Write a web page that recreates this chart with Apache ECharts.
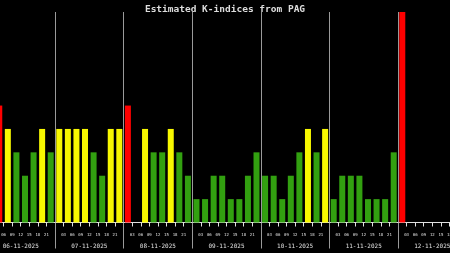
<!DOCTYPE html>
<html>
<head>
<meta charset="utf-8">
<script src="https://cdn.jsdelivr.net/npm/echarts@6/dist/echarts.min.js"></script>
<style>
html,body{margin:0;padding:0;background:#000;}
#c{width:450px;height:253px;}
</style>
</head>
<body>
<div id="c"></div>
<script>
// Data
var days = ['06-11-2025','07-11-2025','08-11-2025','09-11-2025','10-11-2025','11-11-2025','12-11-2025'];
var hourLabels = ['03','06','09','12','15','18','21'];
var k06 = [null,5,4,3,2,3,4,3];
var k07 = [4,4,4,4,3,2,4,4];
var k08 = [5,0,4,3,3,4,3,2];
var k09 = [1,1,2,2,1,1,2,3];
var k10 = [2,2,1,2,3,4,3,4];
var k11 = [1,2,2,2,1,1,1,3];
var k12 = [9,null,null,null,null,null,null,null];
var kByDay = [k06,k07,k08,k09,k10,k11,k12];

var GREEN = '#32a010', YELLOW = '#f8f800', RED = '#ff0000';
function colorFor(k){ return k >= 5 ? RED : (k >= 4 ? YELLOW : GREEN); }

var barData = [];
kByDay.forEach(function(arr, d){
  arr.forEach(function(k, s){
    if (k === null) return;
    barData.push({ value: [d*24 + s*3 + 1.5, k], itemStyle: { color: colorFor(k) } });
  });
});

var chart = echarts.init(document.getElementById('c'), null, {renderer:'canvas'});
chart.setOption({
  backgroundColor: '#000',
  animation: false,
  title: {
    text: 'Estimated K-indices from PAG',
    left: 'center', top: 0,
    textStyle: { color: '#dddddd', fontFamily: 'DejaVu Sans Mono', fontWeight: 'bold', fontSize: 9.5 }
  },
  grid: { left: -13.6, width: 480.2, top: 12, height: 210.5, containLabel: false, outerBoundsMode: 'none' },
  xAxis: [
    {
      type: 'value', min: 0, max: 168, interval: 3,
      axisLine: { show: true, lineStyle: { color: '#e0e0e0', width: 1 } },
      axisTick: { show: true, length: 4, lineStyle: { color: '#e0e0e0' } },
      splitLine: { show: false },
      axisLabel: {
        color: '#e0e0e0', fontFamily: 'DejaVu Sans Mono', fontSize: 4, margin: 10,
        showMinLabel: true, showMaxLabel: true,
        formatter: function(v){ var h = v % 24; return h === 0 ? '' : hourLabels[h/3 - 1]; }
      }
    },
    {
      type: 'category', data: days, position: 'bottom', boundaryGap: true,
      axisLine: { show: false },
      axisTick: { show: true, interval: 0, length: 26, lineStyle: { color: '#9a9a9a' } },
      splitLine: { show: true, interval: 0, lineStyle: { color: '#9a9a9a', width: 1 } },
      axisLabel: { interval: 0, color: '#e0e0e0', fontFamily: 'DejaVu Sans Mono', fontSize: 6, margin: 21 }
    }
  ],
  yAxis: { type: 'value', min: 0, max: 9, show: false, splitLine: { show: false } },
  series: [{
    type: 'bar', xAxisIndex: 0, barWidth: 6, data: barData
  }]
});
</script>
</body>
</html>
